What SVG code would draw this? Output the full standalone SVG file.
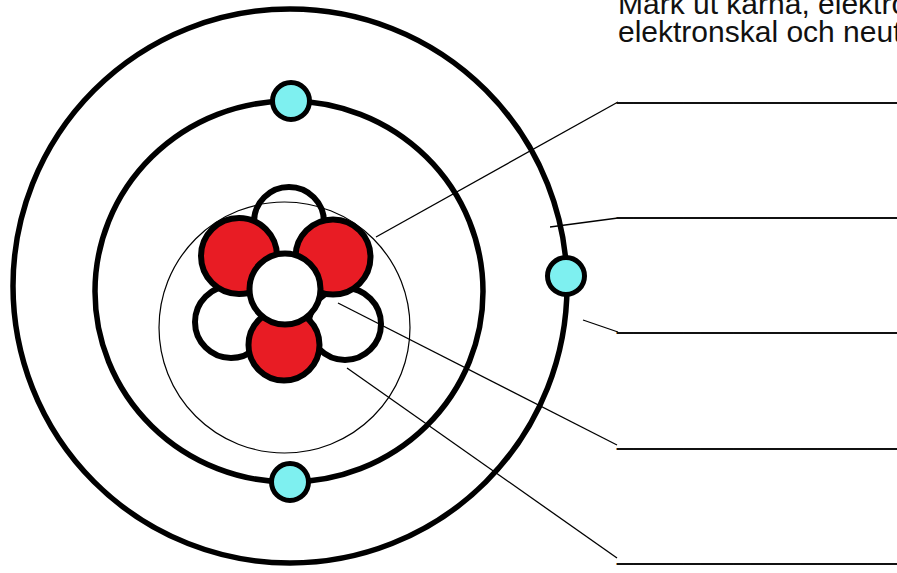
<svg xmlns="http://www.w3.org/2000/svg" width="897" height="573" viewBox="0 0 897 573">
  <style>
    .orbit { fill: none; stroke: #000; stroke-width: 5.5; }
    .thin { fill: none; stroke: #000; stroke-width: 1.2; }
    .electron { fill: #7ef0f0; stroke: #000; stroke-width: 5; }
    .proton { fill: #e81c24; stroke: #000; stroke-width: 6; }
    .neutron { fill: #fff; stroke: #000; stroke-width: 6; }
    .leader { fill: none; stroke: #000; stroke-width: 1.3; }
    .txt { font-family: "Liberation Sans", Arial, sans-serif; font-size: 30px; fill: #111; }
  </style>

  <rect width="897" height="573" fill="#fff"/>

  <!-- electron shells -->
  <g id="shell-outer"><circle class="orbit" cx="290" cy="286" r="277"/></g>
  <g id="shell-inner"><ellipse class="orbit" cx="289" cy="291.5" rx="194" ry="190.5"/></g>

  <!-- nucleus: neutrons behind, protons, centre neutron on top -->
  <g id="nucleus">
    <circle id="neutron-top" class="neutron" cx="289" cy="222" r="35"/>
    <circle id="neutron-left" class="neutron" cx="231" cy="322" r="36"/>
    <circle id="neutron-right" class="neutron" cx="345" cy="324" r="36"/>
    <circle id="proton-left" class="proton" cx="239" cy="256" r="38"/>
    <circle id="proton-right" class="proton" cx="333" cy="257" r="37.5"/>
    <circle id="proton-bottom" class="proton" cx="284" cy="345" r="35.5"/>
    <circle id="neutron-centre" class="neutron" cx="285" cy="289" r="35.5"/>
  </g>

  <!-- thin ring around the nucleus -->
  <g id="nucleus-ring"><circle class="thin" cx="284.5" cy="327.5" r="125.5"/></g>

  <!-- electrons -->
  <g id="electron-top"><circle class="electron" cx="291" cy="101" r="18.5"/></g>
  <g id="electron-right"><circle class="electron" cx="566" cy="276" r="18.5"/></g>
  <g id="electron-bottom"><circle class="electron" cx="290" cy="482" r="18.5"/></g>

  <!-- leader lines to the answer blanks -->
  <g id="connectors">
    <line class="leader" x1="376" y1="237" x2="618" y2="102"/>
    <line class="leader" x1="550" y1="227" x2="618" y2="218"/>
    <line class="leader" x1="583" y1="320" x2="618" y2="332"/>
    <line class="leader" x1="338" y1="303" x2="617" y2="445"/>
    <line class="leader" x1="347" y1="368" x2="617" y2="558"/>
  </g>

  <!-- instruction and answer blanks -->
  <g id="instruction">
    <text class="txt" x="618" y="14">Märk ut kärna, elektro</text>
    <text class="txt" x="618" y="41.5">elektronskal och neut</text>
  </g>
  <g id="blanks">
    <text class="txt" x="617" y="98">_________________</text>
    <text class="txt" x="617" y="213">_________________</text>
    <text class="txt" x="617" y="328">_________________</text>
    <text class="txt" x="617" y="444">_________________</text>
    <text class="txt" x="617" y="559">_________________</text>
  </g>
</svg>
